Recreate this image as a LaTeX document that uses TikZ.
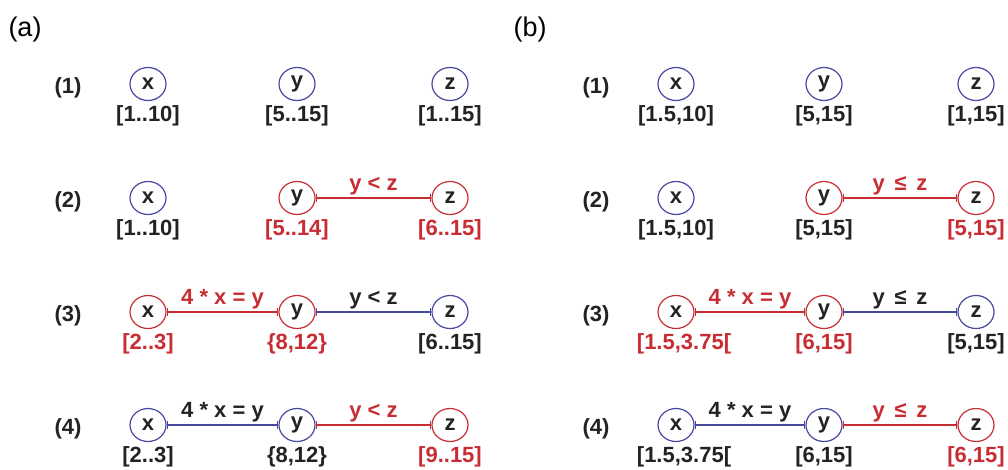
\documentclass[tikz,border=0pt]{standalone}
\usepackage{fontspec}
\setmainfont{Liberation Sans}
\usepackage{tikz}
\usetikzlibrary{arrows.meta, positioning, shapes.geometric}

\definecolor{cblue}{RGB}{72,72,160}
\definecolor{cred}{RGB}{200,45,52}
\definecolor{ctext}{RGB}{35,35,35}

\begin{document}
\begin{tikzpicture}[
  x=1pt, y=-1pt,
  font=\fontsize{22}{25}\selectfont\bfseries,
  var/.style={ellipse, draw, line width=1.2pt, minimum width=36pt, minimum height=33pt, inner sep=0pt, text=ctext},
  dom/.style={inner sep=0pt, text=ctext},
  con/.style={{Bar[width=8pt]}-{Bar[width=8pt]}, line width=1.2pt},
  rel/.style={above, midway, inner sep=2.5pt},
  row/.style={text=ctext},
  panel/.style={font=\fontsize{27}{30}\selectfont}
]
\useasboundingbox (0,0) rectangle (1008,469);

% panel (a)
\node[panel] (pa) at (25,30) {(a)};
\node[row] (ra1) at (68,88) {(1)};
\node[row] (ra2) at (68,202) {(2)};
\node[row] (ra3) at (68,316) {(3)};
\node[row] (ra4) at (68,429) {(4)};

\node[var, draw=cblue] (ax1) at (148,84) {x};
\node[var, draw=cblue] (ay1) at (297,84) {y};
\node[var, draw=cblue] (az1) at (450,84) {z};
\node[dom, below=4pt of ax1] {[1..10]};
\node[dom, below=4pt of ay1] {[5..15]};
\node[dom, below=4pt of az1] {[1..15]};

\node[var, draw=cblue] (ax2) at (148,198) {x};
\node[var, draw=cred] (ay2) at (297,198) {y};
\node[var, draw=cred] (az2) at (450,198) {z};
\node[dom, below=4pt of ax2] {[1..10]};
\node[dom, below=4pt of ay2, text=cred] {[5..14]};
\node[dom, below=4pt of az2, text=cred] {[6..15]};
\draw[con, cred] (ay2) -- (az2) node[rel] {y < z};

\node[var, draw=cred] (ax3) at (148,312) {x};
\node[var, draw=cred] (ay3) at (297,312) {y};
\node[var, draw=cblue] (az3) at (450,312) {z};
\node[dom, below=4pt of ax3, text=cred] {[2..3]};
\node[dom, below=4pt of ay3, text=cred] {\{8,12\}};
\node[dom, below=4pt of az3] {[6..15]};
\draw[con, cred] (ax3) -- (ay3) node[rel] {4 * x = y};
\draw[con, cblue] (ay3) -- (az3) node[rel, text=ctext] {y < z};

\node[var, draw=cblue] (ax4) at (148,425) {x};
\node[var, draw=cblue] (ay4) at (297,425) {y};
\node[var, draw=cred] (az4) at (450,425) {z};
\node[dom, below=4pt of ax4] {[2..3]};
\node[dom, below=4pt of ay4] {\{8,12\}};
\node[dom, below=4pt of az4, text=cred] {[9..15]};
\draw[con, cblue] (ax4) -- (ay4) node[rel, text=ctext] {4 * x = y};
\draw[con, cred] (ay4) -- (az4) node[rel] {y < z};

% panel (b)
\node[panel] (pb) at (530,30) {(b)};
\node[row] (rb1) at (596,88) {(1)};
\node[row] (rb2) at (596,202) {(2)};
\node[row] (rb3) at (596,316) {(3)};
\node[row] (rb4) at (596,429) {(4)};

\node[var, draw=cblue] (bx1) at (676,84) {x};
\node[var, draw=cblue] (by1) at (824,84) {y};
\node[var, draw=cblue] (bz1) at (976,84) {z};
\node[dom, below=4pt of bx1] {[1.5,10]};
\node[dom, below=4pt of by1] {[5,15]};
\node[dom, below=4pt of bz1] {[1,15]};

\node[var, draw=cblue] (bx2) at (676,198) {x};
\node[var, draw=cred] (by2) at (824,198) {y};
\node[var, draw=cred] (bz2) at (976,198) {z};
\node[dom, below=4pt of bx2] {[1.5,10]};
\node[dom, below=4pt of by2] {[5,15]};
\node[dom, below=4pt of bz2, text=cred] {[5,15]};
\draw[con, cred] (by2) -- (bz2) node[rel] {y \,≤\, z};

\node[var, draw=cred] (bx3) at (676,312) {x};
\node[var, draw=cred] (by3) at (824,312) {y};
\node[var, draw=cblue] (bz3) at (976,312) {z};
\node[dom, below=4pt of bx3, xshift=8pt, text=cred] {[1.5,3.75[};
\node[dom, below=4pt of by3, text=cred] {[6,15]};
\node[dom, below=4pt of bz3] {[5,15]};
\draw[con, cred] (bx3) -- (by3) node[rel] {4 * x = y};
\draw[con, cblue] (by3) -- (bz3) node[rel, text=ctext] {y \,≤\, z};

\node[var, draw=cblue] (bx4) at (676,425) {x};
\node[var, draw=cblue] (by4) at (824,425) {y};
\node[var, draw=cred] (bz4) at (976,425) {z};
\node[dom, below=4pt of bx4, xshift=8pt] {[1.5,3.75[};
\node[dom, below=4pt of by4] {[6,15]};
\node[dom, below=4pt of bz4, text=cred] {[6,15]};
\draw[con, cblue] (bx4) -- (by4) node[rel, text=ctext] {4 * x = y};
\draw[con, cred] (by4) -- (bz4) node[rel] {y \,≤\, z};
\end{tikzpicture}
\end{document}
